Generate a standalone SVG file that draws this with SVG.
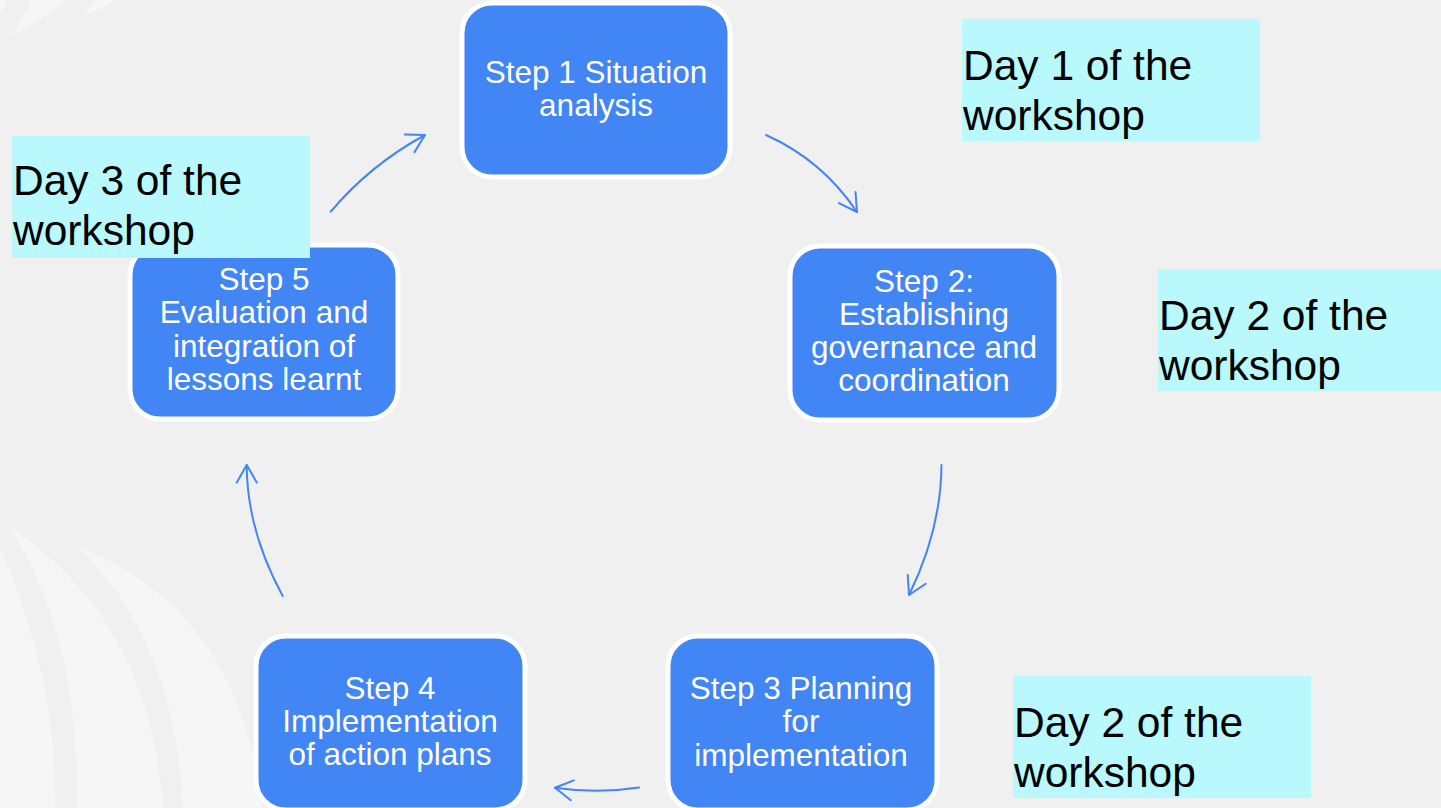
<svg xmlns="http://www.w3.org/2000/svg" width="1441" height="808" viewBox="0 0 1441 808">
<style>
.bg{fill:#F0F0F0}
.sw{fill:#F6F6F6}
.node{fill:#4285F4;stroke:#FFFFFF;stroke-width:5}
.nt{font-family:"Liberation Sans",Arial,sans-serif;font-size:31.5px;fill:#FFFFFF;text-anchor:middle}
.lbl{fill:#B9F8FD}
.lt{font-family:"Liberation Sans",Arial,sans-serif;font-size:42.5px;fill:#000000}
.conn{fill:none;stroke:#4285F4;stroke-width:2;stroke-linecap:round}
</style>
<defs>
<marker id="ah" markerUnits="userSpaceOnUse" markerWidth="30" markerHeight="30" refX="0" refY="0" viewBox="-20 -15 25 30" orient="auto" overflow="visible">
<path d="M-17.5,-10 L0,0 L-17.5,10" fill="none" stroke="#4285F4" stroke-width="2" stroke-linecap="round" stroke-linejoin="round"/>
</marker>
</defs>
<rect class="bg" x="0" y="0" width="1441" height="808"/>
<g id="background-swooshes">
<path class="sw" d="M0,0 L8,0 Q4,8 0,14 Z"/>
<path class="sw" d="M10,36 Q25,15 32,0 L67,0 Q40,22 10,36 Z"/>
<path class="sw" d="M82,17 Q90,8 95,0 L115,0 Q100,10 82,17 Z"/>
<path class="sw" d="M0,547 Q58,682 55,808 L0,808 Z"/>
<path class="sw" d="M10,527 Q80,640 77,808 L163,808 Q150,620 10,527 Z"/>
<path class="sw" d="M78,547 Q175,640 183,808 L262,808 Q240,610 78,547 Z"/>
</g>
<g id="connectors">
<path class="conn" d="M766,135 Q822,160 857,212" marker-end="url(#ah)"/>
<path class="conn" d="M941.5,465 Q941,530 909,595" marker-end="url(#ah)"/>
<path class="conn" d="M639,787.5 Q597,794 555,787.7" marker-end="url(#ah)"/>
<path class="conn" d="M282.7,596 Q247,530.5 246.7,465" marker-end="url(#ah)"/>
<path class="conn" d="M330.7,211.7 Q370,165 425,135" marker-end="url(#ah)"/>
</g>
<g id="step1">
<rect class="node" x="462" y="3" width="268" height="174" rx="30"/>
<text class="nt" x="596" y="83">Step 1 Situation</text>
<text class="nt" x="596" y="116">analysis</text>
</g>
<g id="step2">
<rect class="node" x="790" y="246" width="269" height="174" rx="30"/>
<text class="nt" x="924" y="292">Step 2:</text>
<text class="nt" x="924" y="325">Establishing</text>
<text class="nt" x="924" y="358">governance and</text>
<text class="nt" x="924" y="391">coordination</text>
</g>
<g id="step3">
<rect class="node" x="668" y="636" width="269" height="174" rx="30"/>
<text class="nt" x="801" y="699">Step 3 Planning</text>
<text class="nt" x="801" y="732">for</text>
<text class="nt" x="801" y="766">implementation</text>
</g>
<g id="step4">
<rect class="node" x="256" y="636" width="269" height="174" rx="30"/>
<text class="nt" x="390" y="699">Step 4</text>
<text class="nt" x="390" y="732">Implementation</text>
<text class="nt" x="390" y="765">of action plans</text>
</g>
<g id="step5">
<rect class="node" x="130" y="245" width="268" height="174" rx="30"/>
<text class="nt" x="264" y="290">Step 5</text>
<text class="nt" x="264" y="323">Evaluation and</text>
<text class="nt" x="264" y="357">integration of</text>
<text class="nt" x="264" y="390">lessons learnt</text>
</g>
<g id="label-day1">
<rect class="lbl" x="962" y="19" width="298" height="122"/>
<text class="lt" x="963" y="80">Day 1 of the</text>
<text class="lt" x="963" y="130">workshop</text>
</g>
<g id="label-day2-upper">
<rect class="lbl" x="1158" y="269" width="300" height="122"/>
<text class="lt" x="1159" y="330">Day 2 of the</text>
<text class="lt" x="1159" y="380">workshop</text>
</g>
<g id="label-day2-lower">
<rect class="lbl" x="1013" y="676" width="298" height="122"/>
<text class="lt" x="1014" y="737">Day 2 of the</text>
<text class="lt" x="1014" y="787">workshop</text>
</g>
<g id="label-day3">
<rect class="lbl" x="12" y="136" width="298" height="122"/>
<text class="lt" x="13" y="195">Day 3 of the</text>
<text class="lt" x="13" y="245">workshop</text>
</g>
</svg>
